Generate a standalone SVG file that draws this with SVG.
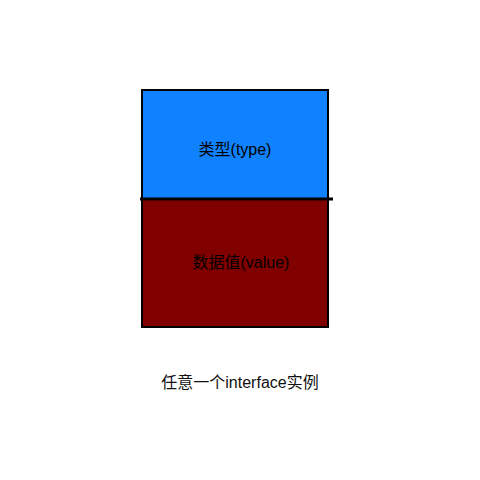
<svg xmlns="http://www.w3.org/2000/svg" width="480" height="480" viewBox="0 0 480 480">
<style>
.box{stroke:#000;stroke-width:2}
.t{font-family:"Liberation Sans","Noto Sans CJK SC",sans-serif;font-size:16px;fill:#000;text-anchor:middle}
</style>
<rect width="480" height="480" fill="#fff"/>
<g id="type">
<rect class="box" x="142" y="90" width="186" height="109" fill="#1182ff"/>
<text class="t" x="235" y="155">类型(type)</text>
</g>
<g id="value">
<rect class="box" x="142" y="199" width="186" height="128" fill="#800000"/>
<text class="t" x="241" y="268">数据值(value)</text>
</g>
<g id="connectors">
<line x1="140" y1="199" x2="333" y2="199" stroke="#000" stroke-width="3"/>
</g>
<text class="t" x="240" y="388" style="fill:#111">任意一个interface实例</text>
</svg>
